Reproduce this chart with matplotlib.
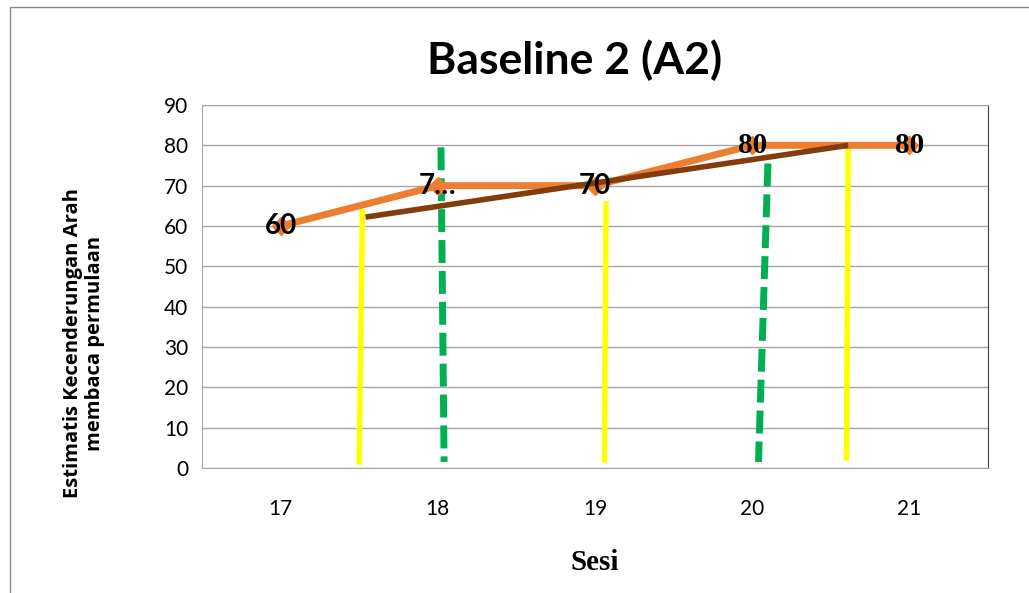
import matplotlib.pyplot as plt
from matplotlib.patches import Rectangle

sessions = ["17", "18", "19", "20", "21"]
scores = [60, 70, 70, 80, 80]
point_labels = ["60", "7…", "70", "80", "80"]

# trend line drawn over the chart (category index, value)
trend_x = [0.54, 3.61]
trend_y = [62.2, 80.0]

# hand-drawn vertical guide lines: (x_top, y_top, x_bottom, y_bottom)
yellow_lines = [(0.52, 63.5, 0.50, 1.5), (2.07, 65.5, 2.06, 2.0), (3.61, 79.5, 3.60, 2.5)]
green_lines = [(1.02, 79.5, 1.04, 1.5), (3.10, 75.5, 3.04, 1.5)]

orange = "#ED7D31"
brown = "#843C0C"

fig = plt.figure(figsize=(10.29, 5.93), dpi=100)
fig.patches.append(Rectangle((10 / 1029, -0.1), 1.2, 1 - 7 / 593 + 0.1,
                             transform=fig.transFigure, fill=False,
                             edgecolor="#888888", lw=1))
ax = fig.add_axes([202 / 1029, 1 - 468 / 593, 786 / 1029, 363 / 593])

x = list(range(len(sessions)))
ax.plot(x, scores, color=orange, lw=5, marker="D", markersize=9, zorder=3)
ax.plot(trend_x, trend_y, color=brown, lw=4, solid_capstyle="butt", zorder=4)

for x0, y0, x1, y1 in yellow_lines:
    ax.plot([x0, x1], [y0, y1], color="#FFFF00", lw=4, zorder=2)
for x0, y0, x1, y1 in green_lines:
    ax.plot([x0, x1], [y0, y1], color="#00B050", lw=5, dashes=(3.3, 1.15), zorder=2)

for i, (v, lab) in enumerate(zip(scores, point_labels)):
    if v == 80:
        ax.text(i, v, lab, ha="center", va="center", fontsize=21, fontweight="bold",
                family="Liberation Serif", zorder=5)
    else:
        ax.text(i, v, lab, ha="center", va="center", fontsize=20, fontweight="bold",
                family="Lato", zorder=5)

ax.set_xlim(-0.5, 4.5)
ax.set_ylim(0, 90)
ax.set_yticks(range(0, 91, 10))
ax.set_xticks(x)
ax.set_xticklabels(sessions)
ax.yaxis.grid(True, color="#A6A6A6", lw=1)
ax.set_axisbelow(True)
ax.tick_params(length=0, labelsize=15, pad=10)
for t in ax.get_xticklabels() + ax.get_yticklabels():
    t.set_family("Lato")
ax.tick_params(axis="x", pad=22)
for s in ["top", "left", "bottom"]:
    ax.spines[s].set_color("#A6A6A6")
ax.spines["right"].set_color("#404040")

ax.set_xlabel("Sesi", fontsize=21, fontweight="bold", family="Liberation Serif", labelpad=22)
fig.text(84 / 1029, 1 - 343 / 593, "Estimatis Kecenderungan Arah\nmembaca permulaan",
         rotation=90, ha="center", va="center", multialignment="center",
         fontsize=14.5, fontweight="bold", family="Open Sans", linespacing=1.15)
fig.text(575 / 1029, 1 - 60 / 593, "Baseline 2 (A2)", ha="center", va="center",
         fontsize=32, fontweight="bold", family="Lato")

fig.savefig("out.png", dpi=100)
